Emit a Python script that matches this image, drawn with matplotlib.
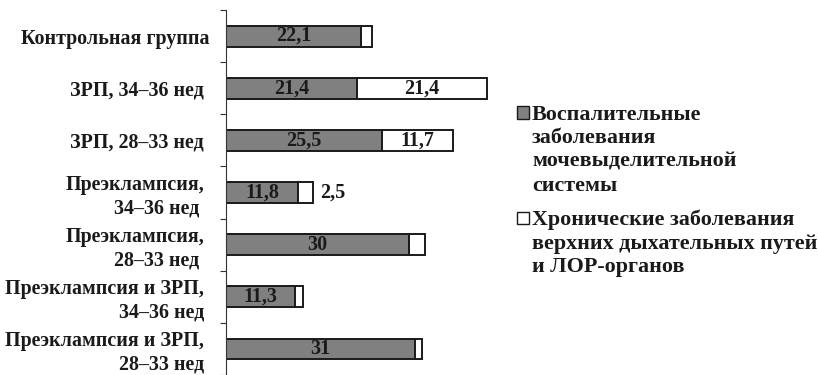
import matplotlib
matplotlib.use("Agg")
import matplotlib.pyplot as plt
from matplotlib.patches import Rectangle
from matplotlib.transforms import ScaledTranslation

categories = [
    "Контрольная группа",
    "ЗРП, 34–36 нед",
    "ЗРП, 28–33 нед",
    "Преэклампсия,\n34–36 нед ",
    "Преэклампсия,\n28–33 нед ",
    "Преэклампсия и ЗРП,\n34–36 нед",
    "Преэклампсия и ЗРП,\n28–33 нед",
]
urinary = [22.1, 21.4, 25.5, 11.8, 30, 11.3, 31]
ent = [1.9, 21.4, 11.7, 2.5, 2.6, 1.25, 1.2]
urinary_labels = ["22,1", "21,4", "25,5", "11,8", "30", "11,3", "31"]
ent_labels = ["", "21,4", "11,7", "2,5", "", "", ""]
legend_labels = [
    ["Воспалительные", "заболевания", "мочевыделительной", "системы"],
    ["Хронические заболевания", "верхних дыхательных путей", "и ЛОР-органов"],
]

GREY = "#808080"
INK = "#1a1a1a"
FONT = "Liberation Serif"

plt.rcParams["font.family"] = [FONT, "DejaVu Serif"]
plt.rcParams["font.weight"] = "bold"

W, H = 818, 375
fig = plt.figure(figsize=(W / 100, H / 100), dpi=100)
ax = fig.add_axes([226 / W, 0.0, 274.5 / W, 365 / H])

y = list(range(len(categories)))
ax.barh(y, urinary, height=0.4, color=GREY, edgecolor=INK, linewidth=1.4)
ax.barh(y, ent, left=urinary, height=0.4, color="white", edgecolor=INK, linewidth=1.4)

ax.set_xlim(0, 45)
ax.set_ylim(len(categories) - 0.5, -0.5)

VAL_SIZE = 14.5
for i in y:
    ax.text(urinary[i] / 2, i, urinary_labels[i], ha="center", va="center",
            fontsize=VAL_SIZE, fontweight="bold", color=INK)
    if ent_labels[i]:
        if ent[i] > 5:
            ax.text(urinary[i] + ent[i] / 2, i, ent_labels[i], ha="center",
                    va="center", fontsize=VAL_SIZE, fontweight="bold", color=INK)
        else:
            ax.text(urinary[i] + ent[i] + 1.1, i, ent_labels[i], ha="left",
                    va="center", fontsize=VAL_SIZE, fontweight="bold", color=INK)

# Category boundaries as ticks, names on minor ticks at bar centres
ax.set_yticks([i - 0.5 for i in range(len(categories) + 1)])
ax.set_yticklabels([])
ax.set_yticks(y, minor=True)
ax.set_yticklabels(categories, minor=True, fontsize=14.4, fontweight="bold",
                   color=INK, ha="right", multialignment="right")
ax.tick_params(axis="y", which="major", direction="out", length=4.3, width=0.8,
               color="#333333")
ax.tick_params(axis="y", which="minor", length=0, pad=15.8)

# the first category name sits a little closer to the axis
first = ax.yaxis.get_minor_ticks()[0].label1
first.set_transform(first.get_transform()
                    + ScaledTranslation(5 / 100, 0, fig.dpi_scale_trans))

ax.set_xticks([])
for side in ("top", "right", "bottom"):
    ax.spines[side].set_visible(False)
ax.spines["left"].set_color("#333333")
ax.spines["left"].set_linewidth(0.8)

# Legend: square swatch beside the first line of each entry
LINE_STEP = 23.7
entries = [(GREY, legend_labels[0], 119.5), ("white", legend_labels[1], 225)]
for color, lines, base in entries:
    fig.add_artist(Rectangle((517 / W, 1 - (base - 1) / H), 12 / W, 12 / H,
                             transform=fig.transFigure, facecolor=color,
                             edgecolor=INK, linewidth=1.0))
    for k, line in enumerate(lines):
        fig.text(532 / W, 1 - (base + k * LINE_STEP) / H, line, ha="left",
                 va="baseline", fontsize=15.8, fontweight="bold", color=INK)

fig.savefig("out.png", dpi=100)
